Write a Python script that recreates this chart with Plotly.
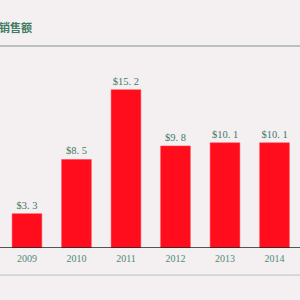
import plotly.graph_objects as go

years = ["2009", "2010", "2011", "2012", "2013", "2014"]
sales = [3.3, 8.5, 15.2, 9.8, 10.1, 10.1]
labels = ["$3. 3", "$8. 5", "$15. 2", "$9. 8", "$10. 1", "$10. 1"]
title_text = "销售额"

green = "#3f7a62"
fig = go.Figure(go.Bar(
    x=years, y=sales, text=labels, textposition="outside",
    textfont=dict(family="Liberation Serif, DejaVu Serif, serif", size=10.5, color=green),
    marker=dict(color="#ff0d1c", line=dict(color="#ff3a46", width=0.5)),
    width=0.6, cliponaxis=False,
))

fig.update_layout(
    width=300, height=300,
    margin=dict(l=0, r=0, t=46, b=52),
    paper_bgcolor="#f4f0f2", plot_bgcolor="#f4f0f2",
    showlegend=False,
    xaxis=dict(type="category", range=[-0.545, 5.515], showgrid=False,
               showline=False, ticks="", zeroline=False, ticklabelstandoff=3,
               tickfont=dict(family="Liberation Serif, DejaVu Serif, serif", size=10, color="#4f8a72")),
    yaxis=dict(range=[0, 19.4], visible=False, showgrid=False, zeroline=False),
    shapes=[
        dict(type="line", xref="paper", yref="paper", x0=0, x1=1, y0=1, y1=1,
             line=dict(color="#a9b1b0", width=1.5)),
        dict(type="line", xref="paper", yref="y", x0=0, x1=1, y0=0, y1=0,
             line=dict(color="#222222", width=1.5)),
        dict(type="line", xref="paper", yref="paper", x0=0, x1=1, y0=-0.134, y1=-0.134,
             line=dict(color="#b9c1bf", width=1)),
    ],
    annotations=[dict(text="<b>" + title_text + "</b>", xref="paper", yref="paper",
                      x=0, y=1, xanchor="left", yanchor="bottom", xshift=-3, yshift=9,
                      showarrow=False,
                      font=dict(family="Noto Sans CJK SC", size=11, color="#3f7a62"))],
)

fig.write_html("out.html")
